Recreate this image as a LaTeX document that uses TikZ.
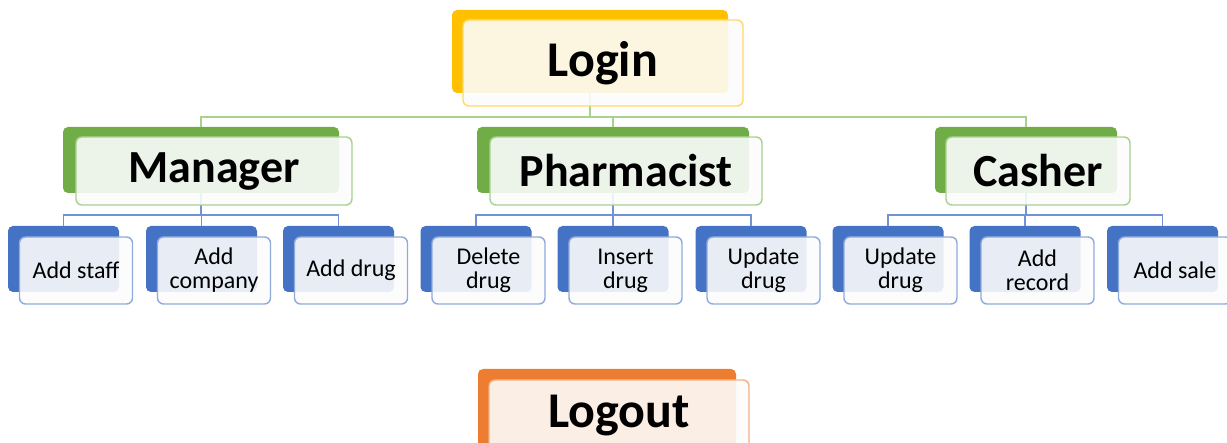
\documentclass[tikz,border=0pt]{standalone}
\usepackage{fontspec}
\setmainfont{Carlito}
\definecolor{cYel}{HTML}{FFC000}
\definecolor{cYelL}{HTML}{FFD966}
\definecolor{cGrn}{HTML}{70AD47}
\definecolor{cGrnL}{HTML}{A9D18E}
\definecolor{cBlu}{HTML}{4472C4}
\definecolor{cBluL}{HTML}{8FAADC}
\definecolor{cBluLine}{HTML}{6F93D6}
\definecolor{cOrg}{HTML}{ED7D31}
\definecolor{cOrgL}{HTML}{F4B183}
\begin{document}
\begin{tikzpicture}[x=1pt,y=-1pt,
  backbox/.style={rounded corners=5pt, inner sep=0pt, fill=#1},
  frontbox/.style={rounded corners=6pt, inner sep=0pt, draw=#1, line width=1.4pt,
    fill=white!99!black, fill opacity=0.89, text opacity=1, align=center},
  hugetext/.style={font=\fontsize{50}{54}\selectfont\bfseries},
  bigtext/.style={font=\fontsize{46}{50}\selectfont\bfseries},
  smalltext/.style={font=\fontsize{24}{24}\selectfont},
  gline/.style={draw=cGrnL, line width=1.2pt},
  bline/.style={draw=cBluLine, line width=1.2pt},
  kid/.style={backbox=cBlu, minimum width=111, minimum height=66},
  kidf/.style={frontbox=cBluL, minimum width=113, minimum height=67, smalltext}
]
\useasboundingbox (0,0) rectangle (1227,443);

% ---- back plates ----
\node[backbox=cYel, minimum width=276, minimum height=83] (loginB) at (590,51.5) {};
\node[backbox=cGrn, minimum width=276, minimum height=66] (manB) at (201,160) {};
\node[backbox=cGrn, minimum width=272, minimum height=66] (pharB) at (613,160) {};
\node[backbox=cGrn, minimum width=182, minimum height=66] (casB) at (1026,160) {};
\node[backbox=cOrg, minimum width=258, minimum height=83] (logoutB) at (607,410.5) {};

\foreach \n/\x in {a1/63.5, a2/201.5, a3/338.5, b1/476, b2/613, b3/751, c1/888, c2/1025, c3/1162.5}
  \node[kid] (\n B) at (\x,259) {};

% ---- connectors ----
\coordinate (gbus) at (0,117);
\coordinate (bbus) at (0,215);
\draw[gline] (loginB.south) -- (loginB.south |- gbus);
\draw[gline] (manB.north) |- (loginB.south |- gbus) -| (casB.north);
\draw[gline] (pharB.north) -- (pharB.north |- gbus);

\draw[bline] (manB.south) -- (manB.south |- bbus);
\draw[bline] (a1B.north) |- (manB.south |- bbus) -| (a3B.north);
\draw[bline] (a2B.north) -- (a2B.north |- bbus);

\draw[bline] (pharB.south) -- (pharB.south |- bbus);
\draw[bline] (b1B.north) |- (pharB.south |- bbus) -| (b3B.north);
\draw[bline] (b2B.north) -- (b2B.north |- bbus);

\draw[bline] (casB.south) -- (casB.south |- bbus);
\draw[bline] (c1B.north) |- (casB.south |- bbus) -| (c3B.north);
\draw[bline] (c2B.north) -- (c2B.north |- bbus);

% ---- front cards with text ----
\node[frontbox=cYelL, minimum width=280, minimum height=86, hugetext] (login) at (603,63) {Login};
\node[frontbox=cGrnL, minimum width=276, minimum height=68, bigtext] (man) at (214,171) {Manager};
\node[frontbox=cGrnL, minimum width=272, minimum height=68, bigtext] (phar) at (626,171) {Pharmacist};
\node[frontbox=cGrnL, minimum width=184, minimum height=68, bigtext] (cas) at (1038,171) {Casher};
\node[frontbox=cOrgL, minimum width=260, minimum height=86] (logout) at (619,423) {};
\node[hugetext, anchor=base, inner sep=0pt] (logoutT) at (619,428) {Logout};

\node[kidf] (a1) at (76,270.5) {Add staff};
\node[kidf] (a2) at (214,270.5) {Add\\company};
\node[kidf] (a3) at (351,270.5) {Add drug};
\node[kidf] (b1) at (488.5,270.5) {Delete\\drug};
\node[kidf] (b2) at (625.5,270.5) {Insert\\drug};
\node[kidf] (b3) at (763.5,270.5) {Update\\drug};
\node[kidf] (c1) at (900.5,270.5) {Update\\drug};
\node[kidf] (c2) at (1037.5,270.5) {Add\\record};
\node[kidf] (c3) at (1175,270.5) {Add sale};
\end{tikzpicture}
\end{document}
